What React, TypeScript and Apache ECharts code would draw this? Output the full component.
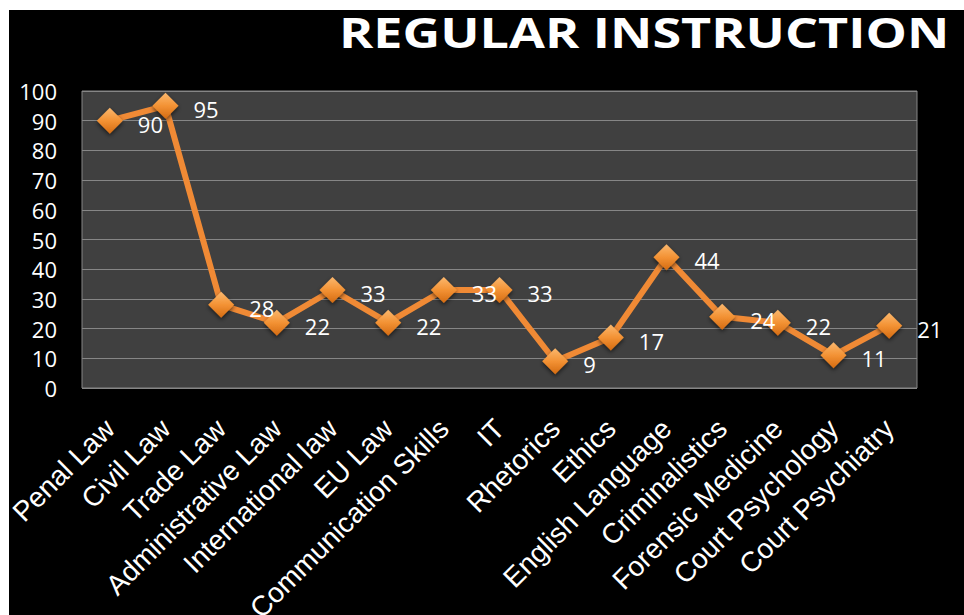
import React, { useEffect, useRef } from "react";
import * as echarts from "echarts";

const categories = [
  "Penal Law",
  "Civil Law",
  "Trade Law",
  "Administrative Law",
  "International law",
  "EU Law",
  "Communication Skills",
  "IT",
  "Rhetorics",
  "Ethics",
  "English Language",
  "Criminalistics",
  "Forensic Medicine",
  "Court Psychology",
  "Court Psychiatry",
];
const values = [90, 95, 28, 22, 33, 22, 33, 33, 9, 17, 44, 24, 22, 11, 21];
const titleText = "REGULAR INSTRUCTION";
const yMin = 0;
const yMax = 100;
const yStep = 10;

export default function App() {
  const ref = useRef<HTMLDivElement>(null);
  useEffect(() => {
    if (!ref.current) return;
    const chart = echarts.init(ref.current, null, { renderer: "svg" });
    chart.setOption({
      animation: false,
      backgroundColor: "#000000",
      graphic: [
        {
          type: "text",
          x: 330,
          y: 2,
          scaleX: 1.27,
          style: {
            text: titleText,
            fill: "#ffffff",
            font: 'bold 41px "Open Sans"',
            textVerticalAlign: "top",
          },
        },
      ],
      grid: {
        left: 73,
        top: 81,
        width: 835,
        height: 297,
        show: true,
        backgroundColor: "#404040",
        borderColor: "#868686",
        borderWidth: 1,
        containLabel: false,
        outerBoundsMode: "none",
      },
      xAxis: {
        type: "category",
        data: categories,
        boundaryGap: true,
        axisLine: { show: false },
        axisTick: { show: false },
        axisLabel: {
          interval: 0,
          rotate: 45,
          margin: 36,
          color: "#ffffff",
          fontFamily: '"Liberation Sans", Arial, sans-serif',
          fontSize: 28,
        },
      },
      yAxis: {
        type: "value",
        min: yMin,
        max: yMax,
        interval: yStep,
        axisLine: { show: false },
        axisTick: { show: false },
        splitLine: { show: true, lineStyle: { color: "#868686", width: 1 } },
        axisLabel: {
          margin: 25,
          color: "#ffffff",
          fontFamily: '"Open Sans", sans-serif',
          fontSize: 22,
        },
      },
      series: [
        {
          type: "line",
          data: values,
          symbol: "diamond",
          symbolSize: [26, 26],
          lineStyle: { color: "#F08A35", width: 6 },
          itemStyle: {
            color: new echarts.graphic.LinearGradient(0, 0, 0, 1, [
              { offset: 0, color: "#FBB86E" },
              { offset: 0.5, color: "#F39234" },
              { offset: 1, color: "#D46B12" },
            ]),
            shadowColor: "rgba(0,0,0,0.6)",
            shadowBlur: 4,
            shadowOffsetY: 2,
          },
          label: {
            show: true,
            position: "right",
            distance: 15,
            offset: [0, 3],
            color: "#ffffff",
            fontFamily: '"Open Sans", sans-serif',
            fontSize: 22,
          },
          z: 3,
        },
      ],
    });
    return () => chart.dispose();
  }, []);
  return (
    <div
      ref={ref}
      style={{ position: "fixed", left: 9, top: 10, width: 955, height: 605 }}
    />
  );
}
